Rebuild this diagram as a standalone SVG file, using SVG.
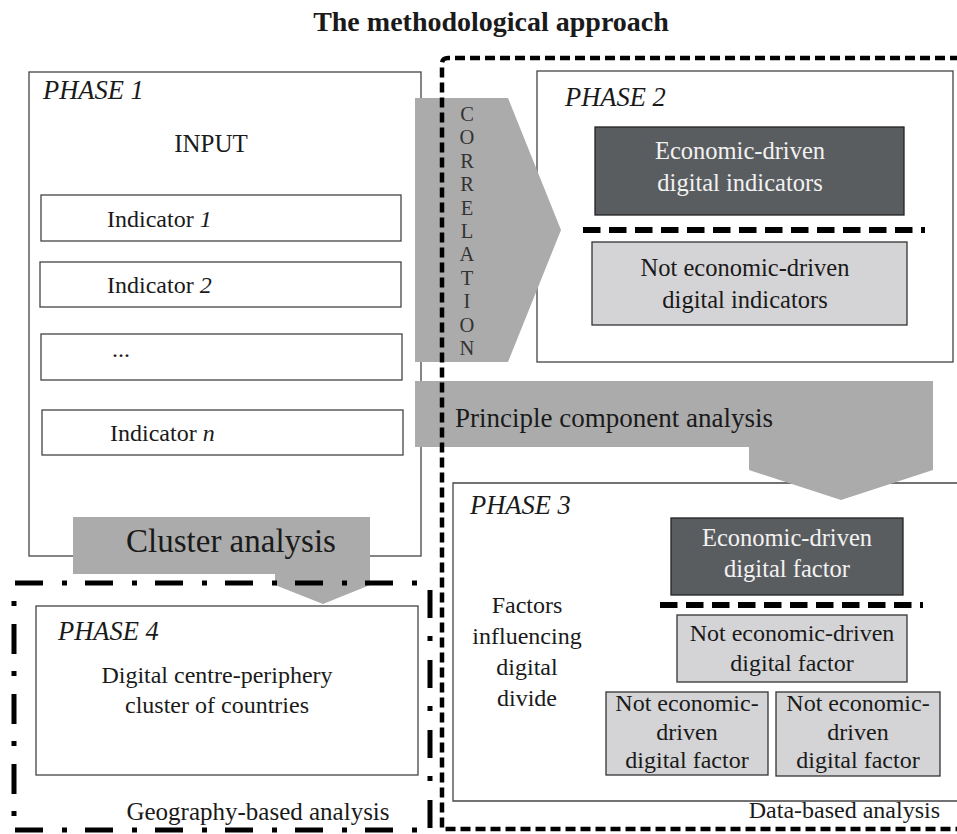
<svg xmlns="http://www.w3.org/2000/svg" width="957" height="834" viewBox="0 0 957 834">
<style>
text{font-family:"Liberation Serif","Times New Roman",serif;fill:#1a1a1a;font-size:24px}
.it{font-style:italic}
.ph{font-style:italic;font-size:26.5px}
.mid{text-anchor:middle}
.box{fill:#fff;stroke:#444;stroke-width:1.3}
.dark{fill:#5a5d60;stroke:#222;stroke-width:1.3}
.light{fill:#d4d4d6;stroke:#333;stroke-width:1.3}
.arrow{fill:#ababab}
.wt{fill:#f2f2f2;font-size:24.5px}
.sep{stroke:#000;stroke-width:6;stroke-dasharray:17.5 8.5;fill:none}
.dash{stroke:#000;stroke-width:4.5;stroke-dasharray:10 5;fill:none}
.dd{stroke:#000;stroke-width:5;fill:none}
</style>
<rect width="957" height="834" fill="#fff"/>
<text x="491" y="31" class="mid" style="font-weight:bold;font-size:28px">The methodological approach</text>

<g id="phase1">
<rect class="box" x="29" y="72" width="392" height="484"/>
<text x="43" y="99" class="ph">PHASE 1</text>
<text x="211" y="152" class="mid" style="font-size:25px">INPUT</text>
<g id="ind1"><rect class="box" x="41" y="195" width="360" height="46"/><text x="107" y="227">Indicator <tspan class="it">1</tspan></text></g>
<g id="ind2"><rect class="box" x="40" y="262" width="361" height="45"/><text x="107" y="293">Indicator <tspan class="it">2</tspan></text></g>
<g id="ind3"><rect class="box" x="41" y="334" width="361" height="46"/><text x="112" y="357">...</text></g>
<g id="indn"><rect class="box" x="42" y="410" width="361" height="45"/><text x="110" y="441">Indicator <tspan class="it">n</tspan></text></g>
</g>

<g id="phase2">
<rect class="box" x="537" y="71" width="416" height="291"/>
<text x="565" y="106" class="ph">PHASE 2</text>
<g id="econ-ind"><rect class="dark" x="595" y="127" width="309" height="88"/>
<text x="740" y="159" class="mid wt">Economic-driven</text><text x="740" y="191" class="mid wt">digital indicators</text></g>
<line class="sep" x1="583" y1="230" x2="925" y2="230"/>
<g id="notecon-ind"><rect class="light" x="592" y="242" width="315" height="83"/>
<text x="745" y="276" class="mid" style="font-size:24.5px">Not economic-driven</text><text x="745" y="308" class="mid" style="font-size:24.5px">digital indicators</text></g>
</g>

<g id="phase3">
<path class="box" d="M960,483 H453 V801 H960"/>
<text x="470" y="514" class="ph">PHASE 3</text>
<text x="527" y="613" class="mid">Factors</text>
<text x="527" y="644" class="mid">influencing</text>
<text x="527" y="675" class="mid">digital</text>
<text x="527" y="706" class="mid">divide</text>
<g id="econ-fac"><rect class="dark" x="671" y="518" width="232" height="77"/>
<text x="787" y="546" class="mid wt">Economic-driven</text><text x="787" y="577" class="mid wt">digital factor</text></g>
<line class="sep" x1="660" y1="605" x2="923" y2="605"/>
<g id="notecon-fac1"><rect class="light" x="677" y="615" width="230" height="67"/>
<text x="792" y="641" class="mid">Not economic-driven</text><text x="792" y="671" class="mid">digital factor</text></g>
<g id="notecon-fac2"><rect class="light" x="606" y="692" width="162" height="83"/>
<text x="687" y="711" class="mid">Not economic-</text><text x="687" y="740" class="mid">driven</text><text x="687" y="768" class="mid">digital factor</text></g>
<g id="notecon-fac3"><rect class="light" x="776" y="692" width="164" height="84"/>
<text x="858" y="711" class="mid">Not economic-</text><text x="858" y="740" class="mid">driven</text><text x="858" y="768" class="mid">digital factor</text></g>
</g>

<g id="phase4">
<rect class="box" x="36" y="606" width="382" height="169"/>
<text x="58" y="640" class="ph">PHASE 4</text>
<text x="217" y="683" class="mid">Digital centre-periphery</text>
<text x="217" y="713" class="mid">cluster of countries</text>
</g>

<g id="connectors">
<g id="correlation">
<polygon class="arrow" points="415,98 508,98 561,230 508,362 415,362"/>
<text style="font-size:20.5px;fill:#333" class="mid"><tspan x="467" y="121">C</tspan><tspan x="467" dy="23.4">O</tspan><tspan x="467" dy="23.4">R</tspan><tspan x="467" dy="23.4">R</tspan><tspan x="467" dy="23.4">E</tspan><tspan x="467" dy="23.4">L</tspan><tspan x="467" dy="23.4">A</tspan><tspan x="467" dy="23.4">T</tspan><tspan x="467" dy="23.4">I</tspan><tspan x="467" dy="23.4">O</tspan><tspan x="467" dy="23.4">N</tspan></text>
</g>
<g id="pca">
<polygon class="arrow" points="415,381 933,381 933,470 841,500 749,470 749,447 415,447"/>
<text x="455" y="427" style="font-size:27px">Principle component analysis</text>
</g>
<g id="cluster">
<polygon class="arrow" points="73,517 370,517 370,585 323,604 275,585 275,574 73,574"/>
<text x="231" y="552" class="mid" style="font-size:33px">Cluster analysis</text>
</g>
</g>

<g id="regions">
<path class="dash" d="M960,58 H448 Q442,58 442,64 V829 H960"/>
<line class="dd" x1="15" y1="583" x2="420" y2="583" stroke-dasharray="28 19 5 18"/>
<line class="dd" x1="14" y1="601" x2="14" y2="834" stroke-dasharray="5 18 30 17"/>
<line class="dd" x1="430" y1="590" x2="430" y2="834" stroke-dasharray="28 18 5 19"/>
<line class="dd" x1="15" y1="830" x2="428" y2="830" stroke-dasharray="28 19 5 18"/>
<text x="258" y="820" class="mid" style="font-size:25px">Geography-based analysis</text>
<text x="940" y="818" style="text-anchor:end">Data-based analysis</text>
</g>
</svg>
